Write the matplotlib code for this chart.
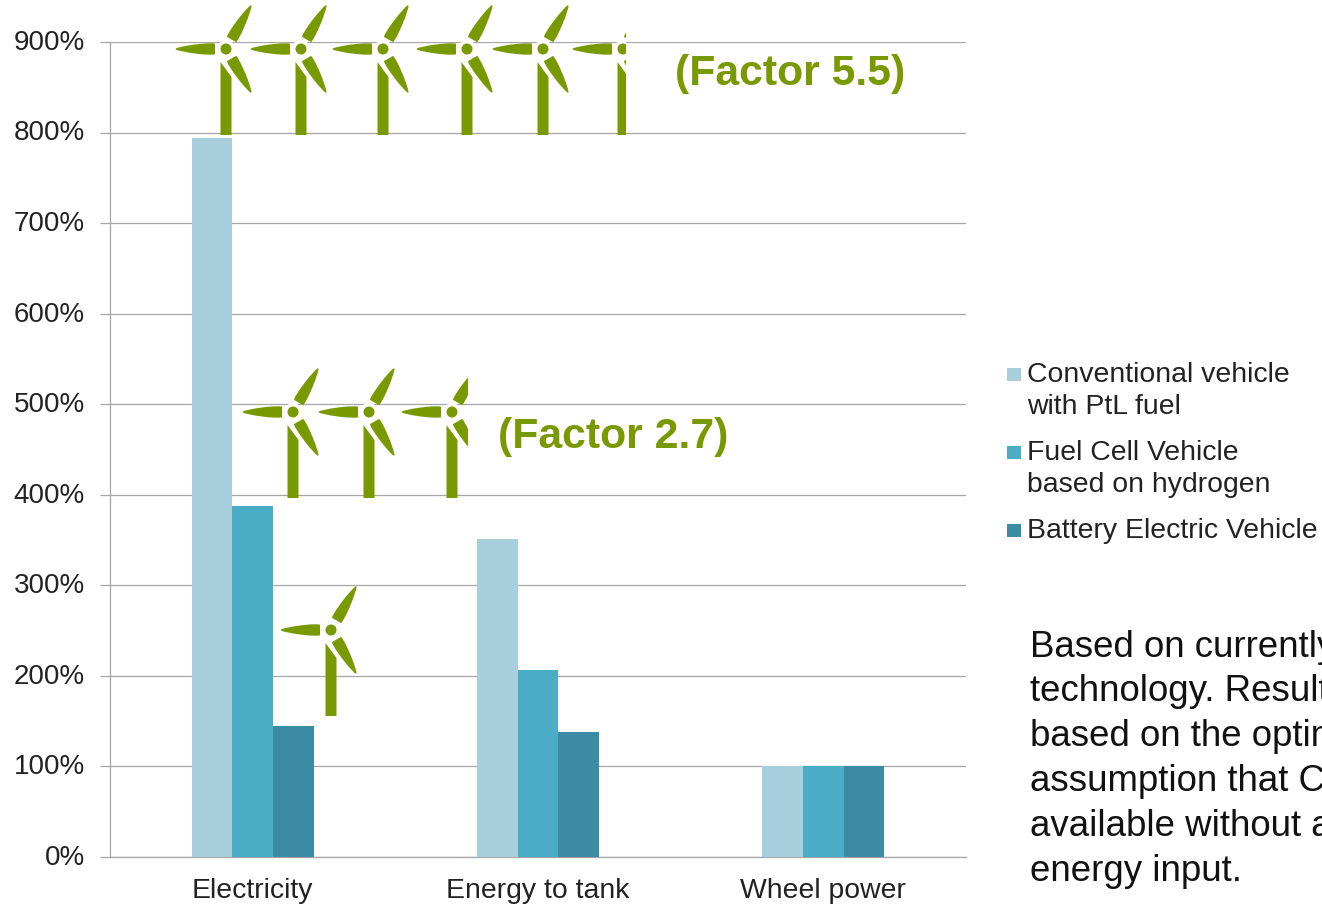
"""Energy demand per vehicle type, with wind turbine pictograms."""

import numpy as np
import matplotlib.pyplot as plt
from matplotlib.patches import Circle, Polygon, Rectangle
from matplotlib.transforms import ScaledTranslation

plt.rcParams["font.family"] = ["Liberation Sans", "DejaVu Sans"]

categories = ["Electricity", "Energy to tank", "Wheel power"]
conventional = [794, 351, 100]
fuel_cell = [388, 206, 100]
battery = [145, 138, 100]
series_names = [
    "Conventional vehicle\nwith PtL fuel",
    "Fuel Cell Vehicle\nbased on hydrogen",
    "Battery Electric Vehicle",
]
y_ticks = list(range(0, 1000, 100))
note_lines = [
    "Based on currently",
    "technology. Results",
    "based on the optimistic",
    "assumption that CO2",
    "available without additional",
    "energy input.",
]

colors = ["#a9cfde", "#4bacc6", "#3c8ba5"]
green = "#789a00"
grid_color = "#a6a6a6"
text_color = "#222222"
W, H = 1322, 905

fig = plt.figure(figsize=(W / 100, H / 100), dpi=100)
ax = fig.add_axes([110 / W, 1 - 857 / H, 856 / W, 815 / H])

# --- Bars -----------------------------------------------------------------
x = np.arange(len(categories))
width = 0.1426
for i, vals in enumerate([conventional, fuel_cell, battery]):
    ax.bar(x + (i - 1) * width, vals, width, color=colors[i], zorder=3)

ax.set_xlim(-0.5, 2.5)
ax.set_ylim(0, 900)
ax.set_xticks(x, categories)
ax.set_yticks(y_ticks, [f"{v}%" for v in y_ticks])
ax.tick_params(axis="x", length=0, labelsize=20.4, pad=15, labelcolor=text_color)
ax.tick_params(axis="y", length=7.2, width=0.9, color=grid_color, labelsize=20,
               pad=11, labelcolor=text_color)
ax.grid(axis="y", color=grid_color, lw=0.9, zorder=0)
ax.set_axisbelow(True)
for side in ["top", "right"]:
    ax.spines[side].set_visible(False)
for side in ["left", "bottom"]:
    ax.spines[side].set_color(grid_color)
    ax.spines[side].set_linewidth(0.9)

# y labels sit a touch higher than the gridlines
lift = ScaledTranslation(0, 1.5 / 72, fig.dpi_scale_trans)
for lab in ax.get_yticklabels():
    lab.set_transform(lab.get_transform() + lift)

# --- Pixel-sized overlay for legend, pictograms and notes -----------------
over = fig.add_axes([0, 0, 1, 1], facecolor="none")
over.set_xlim(0, W)
over.set_ylim(H, 0)
over.axis("off")

# Legend is placed by hand: the swatch lines up with the first text line
legend_y = [373, 451, 529]
for name, c, ly in zip(series_names, colors, legend_y):
    over.add_patch(Rectangle((1007, ly - 5.5), 14, 13.5, color=c, lw=0))
    for j, line in enumerate(name.split("\n")):
        over.text(1027, ly + 2 + j * 32, line, fontsize=20.4, color=text_color,
                  ha="left", va="center")

blade_x = np.array([-11, -14, -20, -26, -32, -38, -43, -47, -49.5, -50.5])
blade_half = np.array([5.4, 5.7, 5.6, 5.1, 4.4, 3.5, 2.5, 1.6, 0.9, 0.0])


def turbine(cx, cy, base, clip_x=None):
    """Draw one turbine with its hub at pixel (cx, cy)."""
    parts = []
    outline = np.r_[np.c_[blade_x, -blade_half],
                    np.c_[blade_x[::-1], blade_half[::-1]]]
    for ang in np.radians([0, 120, 240]):
        bx = cx + outline[:, 0] * np.cos(ang) - outline[:, 1] * np.sin(ang)
        by = cy + outline[:, 0] * np.sin(ang) + outline[:, 1] * np.cos(ang)
        parts.append(Polygon(np.c_[bx, by], color=green, lw=0))
    parts.append(Circle((cx, cy), 9, color="white", lw=0))
    parts.append(Circle((cx, cy), 5.5, color=green, lw=0))
    parts.append(Polygon([(cx - 5.5, cy + 13), (cx + 5.5, cy + 28),
                          (cx + 5.5, base), (cx - 5.5, base)], color=green, lw=0))
    for p in parts:
        over.add_patch(p)
        if clip_x is not None:
            p.set_clip_path(Rectangle((clip_x - 100, 0), 100, H,
                                      transform=over.transData))


for cx in [226, 301, 383, 467, 543]:
    turbine(cx, 49, 135)
turbine(623, 49, 135, clip_x=626)
for cx in [293, 369]:
    turbine(cx, 412, 498)
turbine(452, 412, 498, clip_x=468)
turbine(331, 630, 716)

over.text(790, 74, "(Factor 5.5)", color=green, fontsize=30.8, fontweight="bold",
          ha="center", va="center")
over.text(613, 437, "(Factor 2.7)", color=green, fontsize=30.8, fontweight="bold",
          ha="center", va="center")

for i, line in enumerate(note_lines):
    over.text(1030, 647 + i * 44.8, line, fontsize=26.4, color="#111111",
              ha="left", va="center", clip_on=True)

fig.savefig("out.png", dpi=100)
